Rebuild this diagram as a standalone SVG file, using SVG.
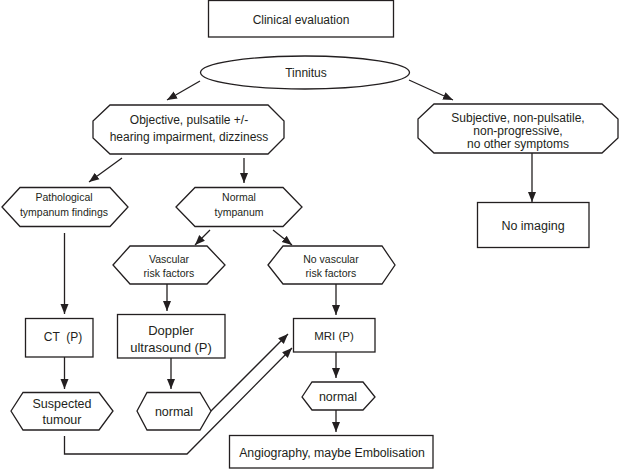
<svg xmlns="http://www.w3.org/2000/svg" width="619" height="470" viewBox="0 0 619 470">
<style>
.s{fill:#fff;stroke:#231f20;stroke-width:1.3}
.t{font-family:"Liberation Sans",Arial,sans-serif;font-size:12px;fill:#231f20;text-anchor:middle}
.sm{font-size:10.5px}
.c{fill:none;stroke:#231f20;stroke-width:1.3}
</style>
<defs>
<marker id="ah" markerUnits="userSpaceOnUse" markerWidth="10" markerHeight="10" viewBox="0 0 10 10" refX="10" refY="5" orient="auto">
<path d="M0,1 L10,5 L0,9 Z" fill="#231f20"/>
</marker>
</defs>
<rect width="619" height="470" fill="#fff"/>
<g id="connectors">
<line class="c" x1="200" y1="81" x2="167" y2="100" marker-end="url(#ah)"/>
<line class="c" x1="409" y1="80" x2="453" y2="100" marker-end="url(#ah)"/>
<line class="c" x1="532" y1="153" x2="532" y2="202" marker-end="url(#ah)"/>
<line class="c" x1="122" y1="158" x2="89" y2="182" marker-end="url(#ah)"/>
<line class="c" x1="244" y1="158" x2="244" y2="183" marker-end="url(#ah)"/>
<line class="c" x1="210" y1="230" x2="195" y2="245" marker-end="url(#ah)"/>
<line class="c" x1="273" y1="230" x2="292" y2="245" marker-end="url(#ah)"/>
<line class="c" x1="64.5" y1="233" x2="64.5" y2="314" marker-end="url(#ah)"/>
<line class="c" x1="64.5" y1="357" x2="64.5" y2="389" marker-end="url(#ah)"/>
<line class="c" x1="167" y1="284" x2="167" y2="311" marker-end="url(#ah)"/>
<line class="c" x1="171" y1="358" x2="171" y2="389" marker-end="url(#ah)"/>
<line class="c" x1="336" y1="284" x2="336" y2="315" marker-end="url(#ah)"/>
<line class="c" x1="336" y1="352" x2="336" y2="378" marker-end="url(#ah)"/>
<line class="c" x1="336" y1="410" x2="336" y2="432" marker-end="url(#ah)"/>
<line class="c" x1="211" y1="411" x2="288" y2="334" marker-end="url(#ah)"/>
<polyline class="c" points="64.5,436 64.5,454 187,454 292,348" marker-end="url(#ah)"/>
</g>
<g id="clinical">
<rect class="s" x="208.5" y="0.5" width="185" height="36.5"/>
<text class="t" x="301" y="23.5">Clinical evaluation</text>
</g>
<g id="tinnitus">
<ellipse class="s" cx="305" cy="72.5" rx="104.5" ry="16.5"/>
<text class="t" x="306" y="76.5">Tinnitus</text>
</g>
<g id="objective">
<polygon class="s" points="110,105 268,105 284,121 284,138 268,154 110,154 93,138 93,121"/>
<text class="t" x="189" y="124">Objective, pulsatile +/-</text>
<text class="t" x="189" y="140.5">hearing impairment, dizziness</text>
</g>
<g id="subjective">
<polygon class="s" points="434,104 602,104 618,119 618,138 602,153 434,153 418,138 418,119"/>
<text class="t" x="518" y="121.5">Subjective, non-pulsatile,</text>
<text class="t" x="518" y="134.5">non-progressive,</text>
<text class="t" x="518" y="147.5">no other symptoms</text>
</g>
<g id="noimaging">
<rect class="s" x="477.5" y="202.5" width="111.5" height="45"/>
<text class="t" x="533" y="229.5" style="font-size:12.5px">No imaging</text>
</g>
<g id="pathological">
<polygon class="s" points="2,207 20,187.5 110,187.5 128,207 110,226.5 20,226.5"/>
<text class="t sm" x="64" y="201">Pathological</text>
<text class="t sm" x="64" y="215.5">tympanum findings</text>
</g>
<g id="normaltympanum">
<polygon class="s" points="176,207 195,187.5 283,187.5 302,207 283,226.5 195,226.5"/>
<text class="t sm" x="239" y="201">Normal</text>
<text class="t sm" x="239" y="215.5">tympanum</text>
</g>
<g id="vascular">
<polygon class="s" points="113,265 130,246 207,246 225,265 207,284 130,284"/>
<text class="t sm" x="169" y="263">Vascular</text>
<text class="t sm" x="169" y="277">risk factors</text>
</g>
<g id="novascular">
<polygon class="s" points="268,265 283,246 382,246 395,265 382,284 283,284"/>
<text class="t sm" x="331" y="263">No vascular</text>
<text class="t sm" x="331" y="277">risk factors</text>
</g>
<g id="ct">
<rect class="s" x="25.5" y="318.5" width="67.5" height="38.5"/>
<text class="t" x="63" y="341" style="white-space:pre" xml:space="preserve">CT  (P)</text>
</g>
<g id="doppler">
<rect class="s" x="117.5" y="314.5" width="107.5" height="43.5"/>
<text class="t" x="171" y="334.5" style="font-size:13px">Doppler</text>
<text class="t" x="171" y="351.5" style="font-size:13px">ultrasound (P)</text>
</g>
<g id="mri">
<rect class="s" x="293.5" y="318.5" width="81.5" height="33.5"/>
<text class="t" x="334" y="340" style="font-size:11.5px">MRI (P)</text>
</g>
<g id="suspected">
<polygon class="s" points="11,411 23,392.5 99,392.5 113,411 99,430 23,430"/>
<text class="t" x="62" y="407.5" style="font-size:12.5px">Suspected</text>
<text class="t" x="62" y="423.5" style="font-size:12.5px">tumour</text>
</g>
<g id="normal1">
<polygon class="s" points="137,411 147,392.5 200,392.5 211,411 200,430 147,430"/>
<text class="t" x="174" y="415.5" style="font-size:12.5px">normal</text>
</g>
<g id="normal2">
<polygon class="s" points="302,397 312,382 363,382 375,397 363,410 312,410"/>
<text class="t" x="338" y="401" style="font-size:12.5px">normal</text>
</g>
<g id="angiography">
<rect class="s" x="229.5" y="435.5" width="203.5" height="32.5"/>
<text class="t" x="332" y="456.5" style="font-size:12.3px">Angiography, maybe Embolisation</text>
</g>
</svg>
